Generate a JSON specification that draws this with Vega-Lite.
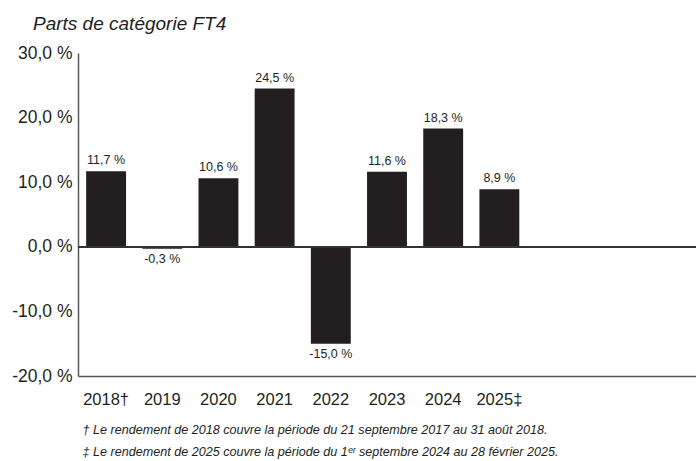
{
  "$schema": "https://vega.github.io/schema/vega-lite/v6.json",
  "autosize": "none",
  "width": 618,
  "height": 323,
  "padding": {"left": 78, "top": 53, "right": 0, "bottom": 85},
  "background": "white",
  "title": {
    "text": "Parts de catégorie FT4",
    "anchor": "start",
    "frame": "group",
    "dx": -45,
    "offset": -9,
    "baseline": "bottom",
    "font": "Liberation Sans",
    "fontStyle": "italic",
    "fontWeight": "normal",
    "fontSize": 19,
    "color": "#231f20"
  },
  "data": {
    "values": [
      {"year": "2018†", "v": 11.7},
      {"year": "2019", "v": -0.3},
      {"year": "2020", "v": 10.6},
      {"year": "2021", "v": 24.5},
      {"year": "2022", "v": -15.0},
      {"year": "2023", "v": 11.6},
      {"year": "2024", "v": 18.3},
      {"year": "2025‡", "v": 8.9}
    ]
  },
  "transform": [
    {"calculate": "(datum.v < 0 ? '-' : '') + replace(format(abs(datum.v), '.1f'), '.', ',') + ' %'", "as": "label"}
  ],
  "encoding": {
    "x": {
      "field": "year",
      "type": "nominal",
      "sort": null,
      "scale": {
        "domain": ["2018†", "2019", "2020", "2021", "2022", "2023", "2024", "2025‡", "x1", "x2", "x3"],
        "paddingInner": 0.29,
        "paddingOuter": 0.145
      },
      "axis": {
        "title": [
          "†  Le rendement de 2018 couvre la période du 21 septembre 2017 au 31 août 2018.",
          "‡  Le rendement de 2025 couvre la période du 1ᵉʳ septembre 2024 au 28 février 2025."
        ],
        "titleFont": "Liberation Sans",
        "titleFontStyle": "italic",
        "titleFontWeight": "normal",
        "titleFontSize": 12.6,
        "titleColor": "#231f20",
        "titleAnchor": "start",
        "titleAlign": "left",
        "titleBaseline": "top",
        "titleX": 4,
        "titleY": 47,
        "titleLineHeight": 22,
        "labelExpr": "indexof(['x1','x2','x3'], datum.value) >= 0 ? '' : datum.value",
        "labelAngle": 0,
        "labelFont": "Liberation Sans",
        "labelFontSize": 16.5,
        "labelColor": "#231f20",
        "labelPadding": 15,
        "ticks": false,
        "domainColor": "#58595b",
        "domainWidth": 1.5
      }
    }
  },
  "layer": [
    {
      "mark": {"type": "bar", "color": "#231f20"},
      "encoding": {
        "y": {
          "field": "v",
          "type": "quantitative",
          "scale": {"domain": [-20, 30], "nice": false, "zero": false},
          "axis": {
            "title": null,
            "values": [-20, -10, 0, 10, 20, 30],
            "labelExpr": "(datum.value < 0 ? '-' : '') + replace(format(abs(datum.value), '.1f'), '.', ',') + ' %'",
            "labelFont": "Liberation Sans",
            "labelFontSize": 17.5,
            "labelColor": "#231f20",
            "labelPadding": 6,
            "ticks": false,
            "grid": false,
            "domainColor": "#58595b",
            "domainWidth": 1.5
          }
        }
      }
    },
    {
      "mark": {"type": "rule", "color": "#333333", "strokeWidth": 1.5},
      "encoding": {"y": {"datum": 0, "type": "quantitative"}, "x": {"value": 0}, "x2": {"value": 618}}
    },
    {
      "transform": [{"filter": "datum.v >= 0"}],
      "mark": {"type": "text", "baseline": "bottom", "dy": -4, "font": "Liberation Sans", "fontSize": 12.5, "color": "#231f20"},
      "encoding": {"y": {"field": "v", "type": "quantitative"}, "text": {"field": "label"}}
    },
    {
      "transform": [{"filter": "datum.v < 0"}],
      "mark": {"type": "text", "baseline": "top", "dy": 4, "font": "Liberation Sans", "fontSize": 12.5, "color": "#231f20"},
      "encoding": {"y": {"field": "v", "type": "quantitative"}, "text": {"field": "label"}}
    }
  ],
  "config": {"view": {"stroke": null}}
}
